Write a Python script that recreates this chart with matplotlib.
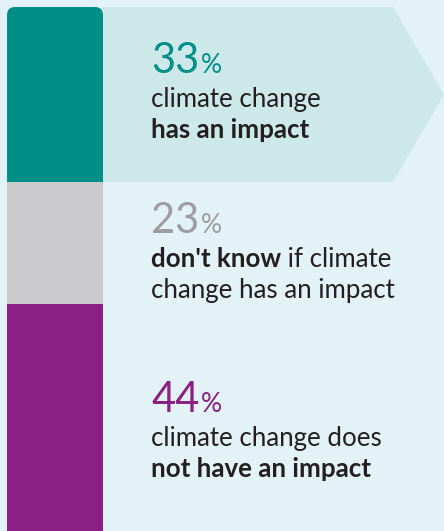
import matplotlib
matplotlib.use("Agg")
import matplotlib.pyplot as plt
from matplotlib.patches import Polygon, FancyBboxPatch

# dados
shares = [33, 23, 44]
pct_labels = ["33", "23", "44"]
colors = ["#008f87", "#cbcbcd", "#8b2084"]
num_colors = ["#008f87", "#9d9d9f", "#8b2084"]
# cada linha: lista de (texto, negrito)
lines = [
    [[("climate change", False)], [("has an impact", True)]],
    [[("don't know", True), (" if climate", False)], [("change has an impact", False)]],
    [[("climate change does", False)], [("not have an impact", True)]],
]
baselines = [73, 233, 412]   # linha de base do numero (px)

BG = "#e3f2f7"
ARROW = "#cde8e8"
TXT = "#231f20"
FONT = "Lato"

W, H = 444, 531
fig = plt.figure(figsize=(W / 100, H / 100), dpi=100)
fig.patch.set_facecolor(BG)
ax = fig.add_axes([0, 0, 1, 1])
ax.set_xlim(0, W)
ax.set_ylim(H, 0)
ax.axis("off")

top = 7
escala = 175 / 33  # px por ponto percentual
bar_x, bar_w = 7, 96

# seta atras do primeiro segmento
y_fim = top + shares[0] * escala
seta = Polygon([(bar_x + bar_w, top), (393, top), (444, (top + y_fim) / 2),
                (393, y_fim), (bar_x + bar_w, y_fim)], closed=True,
               facecolor=ARROW, edgecolor="none", zorder=1)
ax.add_patch(seta)

# barra empilhada com cantos arredondados no topo
clip = FancyBboxPatch((bar_x, top), bar_w, 700, boxstyle="round,pad=0,rounding_size=8",
                      transform=ax.transData, facecolor="none", edgecolor="none")
ax.add_patch(clip)
base = 0
for s, c in zip(shares, colors):
    b = ax.bar(bar_x + bar_w / 2, s * escala, bottom=top + base * escala, width=bar_w,
               color=c, linewidth=0, zorder=2)
    for r in b:
        r.set_clip_path(clip)
    base += s

r = fig.canvas.get_renderer()
inv = ax.transData.inverted()


def largura(t):
    bb = t.get_window_extent(renderer=r)
    return inv.transform((bb.x1, bb.y0))[0]


x0 = 151
for i in range(3):
    n = ax.text(x0, baselines[i], pct_labels[i], fontsize=30, color=num_colors[i],
                family=FONT, va="baseline", ha="left", zorder=3)
    ax.text(largura(n) + 1.5, baselines[i], "%", fontsize=19, color=num_colors[i],
            family=FONT, va="baseline", ha="left", zorder=3)
    for j, linha in enumerate(lines[i]):
        y = baselines[i] + 34 + j * 31
        x = x0
        for texto, negrito in linha:
            t = ax.text(x, y, texto, fontsize=18.6, color=TXT, family=FONT,
                        fontweight="bold" if negrito else "normal",
                        va="baseline", ha="left", zorder=3)
            x = largura(t)

fig.savefig("out.png", dpi=100, facecolor=BG)
